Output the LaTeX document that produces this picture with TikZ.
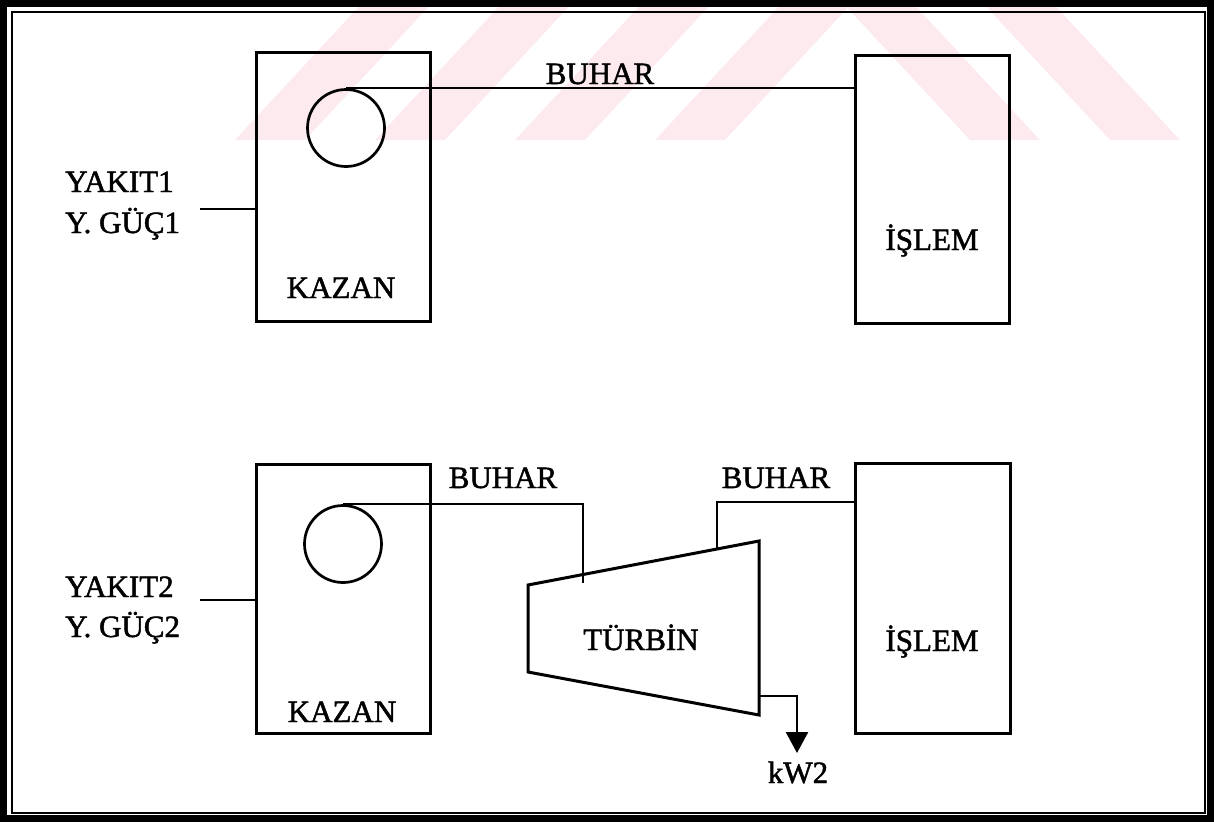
\documentclass[tikz,border=0pt]{standalone}
\usepackage{fontspec}
\setmainfont{Liberation Serif}
\newfontfamily\scanfont{Liberation Serif}[FakeBold=1.5]
\usetikzlibrary{arrows.meta}
\definecolor{wm}{RGB}{253,234,238}
\begin{document}
\begin{tikzpicture}[x=1pt,y=-1pt,
  box/.style={draw, line width=3pt, inner sep=0pt},
  drum/.style={draw, circle, line width=2.7pt, inner sep=0pt, minimum size=77pt},
  wire/.style={line width=2.6pt},
  lbl/.style={font=\scanfont\fontsize{31}{36}\selectfont, inner sep=0pt, anchor=base}]
\useasboundingbox (0,0) rectangle (1214,825);
% watermark
\foreach \b in {235,375,515,655}
  \fill[wm] (\b,140) -- (\b+70,140) -- (\b+200,0) -- (\b+130,0) -- cycle;
\foreach \b in {970,1110}
  \fill[wm] (\b,140) -- (\b+70,140) -- (\b-60,0) -- (\b-130,0) -- cycle;
% frame
\draw[line width=7pt] (3.5,3.5) rectangle (1210.5,818.5);
\draw[line width=2.5pt] (12,12) rectangle (1205,813);

% ---- upper system ----
\node[box, minimum width=174pt, minimum height=269pt] (k1) at (343,186.5) {};
\node[drum] (c1) at (346,128) {};
\node[box, minimum width=154pt, minimum height=268pt] (i1) at (932,189) {};
\node[lbl] (k1t) at (341,298) {KAZAN};
\node[lbl] (i1t) at (932,250) {İŞLEM};
\node[lbl] (b1) at (600,84) {BUHAR};
\node[lbl, anchor=base west] (y1a) at (65,192) {YAKIT1};
\node[lbl, anchor=base west] (y1b) at (65,233) {Y. GÜÇ1};
\draw[wire] (c1.north) -- (c1.north -| i1.west);
\coordinate (f1) at (200,209);
\draw[wire] (f1) -- (f1 -| k1.west);

% ---- lower system ----
\node[box, minimum width=174pt, minimum height=269pt] (k2) at (343,598.5) {};
\node[drum] (c2) at (343,544) {};
\node[box, minimum width=155pt, minimum height=270pt] (i2) at (932.5,598) {};
\node[lbl] (k2t) at (342,722) {KAZAN};
\node[lbl] (i2t) at (932,651) {İŞLEM};
\node[lbl, anchor=base west] (y2a) at (65,597) {YAKIT2};
\node[lbl, anchor=base west] (y2b) at (65,637) {Y. GÜÇ2};
\coordinate (f2) at (200,600);
\draw[wire] (f2) -- (f2 -| k2.west);

% turbine
\coordinate (ta) at (528,585);
\coordinate (tb) at (759,541);
\coordinate (tc) at (759,715);
\coordinate (td) at (528,672);
\draw[line width=3pt, line join=miter] (ta) -- (tb) -- (tc) -- (td) -- cycle;
\node[lbl] (tt) at (641,650) {TÜRBİN};
\node[lbl] (b2) at (503,488) {BUHAR};
\node[lbl] (b3) at (776,488) {BUHAR};
\node[lbl] (kw) at (798,783) {kW2};

% steam to turbine
\coordinate (s2) at (583,583);
\draw[wire] (c2.north) -| (s2);
% steam from turbine to process
\coordinate (s3) at (717,549);
\coordinate (s4) at (717,502);
\draw[wire] (s3) -- (s4) -- (s4 -| i2.west);
% power out
\coordinate (p1) at (759,696);
\coordinate (p3) at (797,753);
\draw[wire, -{Triangle[width=22pt,length=21pt]}] (p1) -| (p3);
\end{tikzpicture}
\end{document}
